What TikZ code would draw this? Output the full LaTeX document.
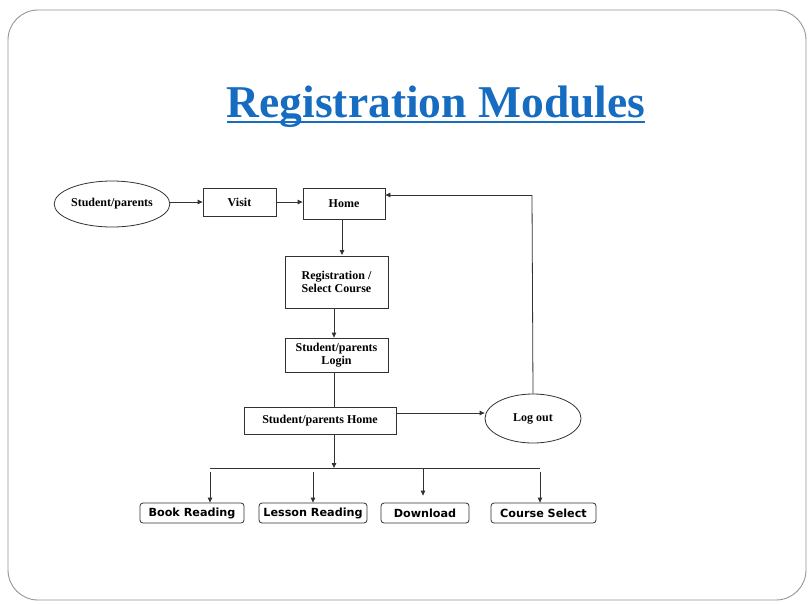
\documentclass[tikz,border=0pt]{standalone}
\usepackage{fontspec}
\setmainfont{Liberation Serif}
\newfontfamily\boxfont{DejaVu Sans}
\usetikzlibrary{arrows.meta,shapes.geometric,calc}
\definecolor{titleblue}{RGB}{22,108,192}
\definecolor{framegray}{RGB}{150,150,150}
\definecolor{linegray}{RGB}{50,50,50}
\tikzset{
  arr/.style={draw=linegray,line width=0.8pt,-{Triangle[length=5pt,width=4.5pt]}},
  ln/.style={draw=linegray,line width=0.8pt},
  sbox/.style={draw=linegray,line width=0.8pt,rectangle,inner sep=1pt,align=center,font=\bfseries\fontsize{12}{13.5}\selectfont},
  oval/.style={draw=linegray,line width=0.8pt,ellipse,inner sep=0pt,align=center,font=\bfseries\fontsize{12}{13.5}\selectfont},
  rbox/.style={draw=linegray,line width=0.8pt,rectangle,rounded corners=3pt,inner sep=1pt,minimum height=20pt,font=\boxfont\bfseries\fontsize{11.2}{12}\selectfont},
}
\begin{document}
\begin{tikzpicture}[x=1pt,y=-1pt]
\useasboundingbox (0,0) rectangle (808,603);
\fill[white] (0,0) rectangle (808,603);
\draw[framegray,line width=0.9pt,rounded corners=30pt] (8,10) rectangle (806,600);
\node[text=titleblue,font=\bfseries\fontsize{45.5}{50}\selectfont,inner sep=0pt,anchor=base] (title) at (436,117) {Registration Modules};
\draw[titleblue,line width=2pt] ($(title.base west)+(0,4.5)$) -- ($(title.base east)+(0,4.5)$);

\node[oval,minimum width=112pt,minimum height=46pt] (sp) at (112,204) {Student/parents};
\node[sbox,minimum width=73pt,minimum height=28pt] (visit) at (239.5,202) {Visit};
\node[sbox,minimum width=82pt,minimum height=31pt] (home) at (344,203.5) {Home};
\node[sbox,minimum width=103pt,minimum height=52pt] (reg) at (336.5,282) {Registration /\\Select Course};
\node[sbox,minimum width=103pt,minimum height=34pt] (login) at (336.5,355) {Student/parents\\Login};
\node[sbox,minimum width=152pt,minimum height=27pt] (sph) at (320,420.5) {Student/parents Home};
\node[oval,minimum width=96pt,minimum height=49pt] (logout) at (533,418.5) {Log out};

\node[rbox,minimum width=104pt] (book) at (192,513) {Book Reading};
\node[rbox,minimum width=108pt] (lesson) at (313,513) {Lesson Reading};
\node[rbox,minimum width=88pt] (download) at (425,513) {Download};
\node[rbox,minimum width=105pt] (course) at (543.5,513) {Course Select};

\coordinate (ret) at (532,195);
\coordinate (col) at (334,0);
\coordinate (ly) at (0,413);
\coordinate (busL) at (210,468);
\coordinate (busM) at (334,468);
\coordinate (busR) at (540,468);
\coordinate (b1) at (210,472);
\coordinate (b2) at (313,472);
\coordinate (b3) at (423,468);
\coordinate (b4) at (540,472);

\draw[arr] (sp.east |- visit.west) -- (visit.west);
\draw[arr] (visit.east) -- (home.west |- visit.east);
\draw[arr] (342,219) -- (342,255);
\draw[arr] (col |- reg.south) -- (col |- login.north);
\draw[ln] (col |- login.south) -- (col |- sph.north);
\draw[arr] (sph.east |- ly) -- (logout.west |- ly);
\draw[ln] (logout.north) -- (ret);
\draw[arr] (ret) -- (ret -| home.east);
\draw[arr] (col |- sph.south) -- (busM);
\draw[ln] (busL) -- (busR);
\draw[arr] (b1) -- (b1 |- book.north);
\draw[arr] (b2) -- (b2 |- lesson.north);
\draw[arr] (b3) -- ($(b3 |- download.north)+(0,-7)$);
\draw[arr] (b4) -- (b4 |- course.north);
\end{tikzpicture}
\end{document}
